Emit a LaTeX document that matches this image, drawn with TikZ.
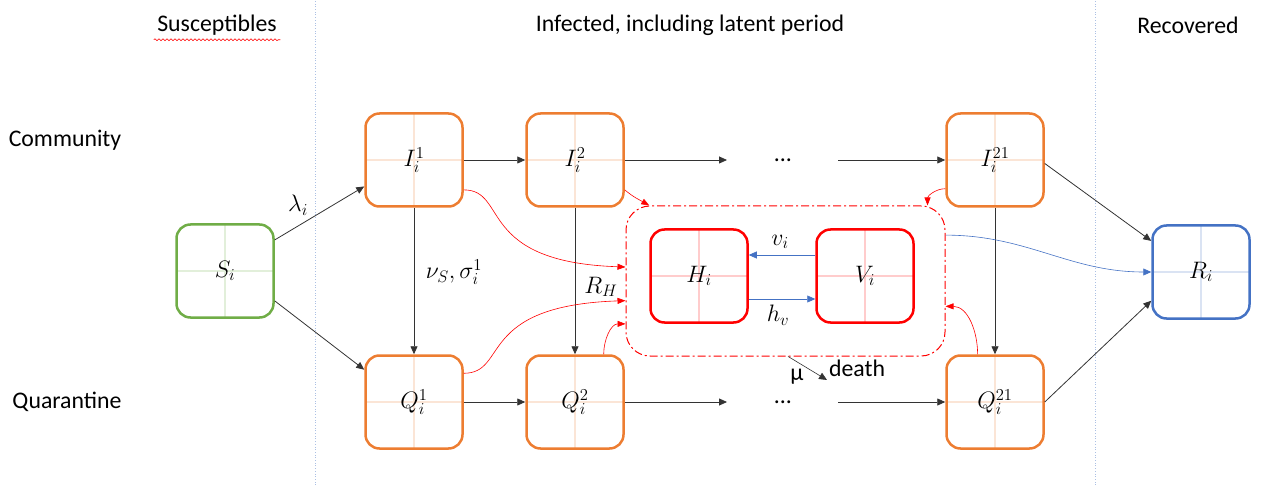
\RequirePackage{fix-cm}
\documentclass[tikz,border=0pt]{standalone}
\usepackage{fontspec}
\setmainfont{Carlito}
\usetikzlibrary{arrows.meta,decorations.pathmorphing}

\definecolor{naranja}{HTML}{ED7D31}
\definecolor{verde}{HTML}{70AD47}
\definecolor{azul}{HTML}{4472C4}
\definecolor{rojo}{HTML}{FF0000}

\tikzset{
    caja/.style={draw=#1, line width=2.5pt, rounded corners=14pt,
        minimum width=97pt, minimum height=93pt,
        path picture={\draw[#1!20, line width=1.4pt]
            (path picture bounding box.north) -- (path picture bounding box.south)
            (path picture bounding box.west) -- (path picture bounding box.east);}},
    flecha/.style={-{Triangle[length=8pt,width=7pt]}, line width=0.8pt, black!80},
    flecharoja/.style={-{Triangle[length=8pt,width=6pt]}, line width=0.6pt, rojo},
    flechaazul/.style={-{Triangle[length=8pt,width=7pt]}, line width=0.8pt, azul},
    separador/.style={azul!45, dotted, line width=0.7pt}
}

\begin{document}
\begin{tikzpicture}[x=1pt, y=1pt, every node/.style={font=\fontsize{23.8}{28}\selectfont}]
        \useasboundingbox (0,0) rectangle (1263,485);

        % Separadores verticales entre las tres zonas.
        \draw[separador] (315,0) -- (315,485);
        \draw[separador] (1095,0) -- (1095,485);

        % Encabezados de columnas y filas.
        \node (susc) at (217,460) {Susceptibles};
        \draw[rojo, line width=0.6pt, decorate,
            decoration={snake, amplitude=0.9pt, segment length=4pt}]
            ([yshift=-1pt]susc.south west) -- ([yshift=-1pt]susc.south east);
        \node (infec) at (690,460) {Infected, including latent period};
        \node (recup) at (1188,460) {Recovered};
        \node (comun) at (65,345) {Community};
        \node (cuar) at (67,83) {Quarantine};

        % Contenedor de hospitalizados y UCI.
        \node[draw=rojo, line width=1pt, rounded corners=24pt,
            dash pattern=on 8pt off 3pt on 2pt off 3pt,
            minimum width=319pt, minimum height=150pt] (hosp) at (785.5,204) {};

        % Compartimentos.
        \node[caja=verde] (S) at (225,214) {$S_i$};
        \node[caja=naranja] (I1) at (414,325) {$I_i^1$};
        \node[caja=naranja] (I2) at (575,325) {$I_i^2$};
        \node[caja=naranja] (I21) at (995,325) {$I_i^{21}$};
        \node[caja=naranja] (Q1) at (414,83) {$Q_i^1$};
        \node[caja=naranja] (Q2) at (575,83) {$Q_i^2$};
        \node[caja=naranja] (Q21) at (995,83) {$Q_i^{21}$};
        \node[caja=rojo] (H) at (699,209) {$H_i$};
        \node[caja=rojo] (V) at (865,209) {$V_i$};
        \node[caja=azul] (R) at (1201,213) {$R_i$};

        % Puntos suspensivos de la cadena de estados.
        \node (pI) at (783,325) {...};
        \node (pQ) at (783,83) {...};
        \coordinate (fI) at (727,325);
        \coordinate (iI) at (838,325);
        \coordinate (fQ) at (727,83);
        \coordinate (iQ) at (838,83);
        \coordinate (muerte) at (827,105);

        % Infección y paso a cuarentena desde S.
        \draw[flecha] (S.32) -- (I1.208);
        \draw[flecha] (S.-31) -- (Q1.147);
        \node at (298,280) {$\lambda_i$};

        % Cadena de infectados en la comunidad y en cuarentena.
        \draw[flecha] (I1.east) -- (I2.west);
        \draw[flecha] (I2.east) -- (fI);
        \draw[flecha] (iI) -- (I21.west);
        \draw[flecha] (Q1.east) -- (Q2.west);
        \draw[flecha] (Q2.east) -- (fQ);
        \draw[flecha] (iQ) -- (Q21.west);

        % Paso vertical de I a Q.
        \draw[flecha] (I1.south) -- (Q1.north);
        \draw[flecha] (I2.south) -- (Q2.north);
        \draw[flecha] (I21.south) -- (Q21.north);
        \node at (454,213) {$\nu_S, \sigma_i^1$};

        % Recuperación.
        \draw[flecha] (I21.-4) -- (R.148);
        \draw[flecha] (Q21.east) -- (R.210);
        \draw[flechaazul, line width=0.6pt] (hosp.16) to[out=0,in=180] (R.west);

        % Hospitalización desde I y Q.
        \draw[flecharoja] (I1.-31) .. controls +(45,0) and +(-150,5) .. (hosp.175);
        \draw[flecharoja] (Q1.30) .. controls +(45,0) and +(-150,-5) .. (hosp.187);
        \draw[flecharoja] (I2.-31) to[out=-40,in=150] (hosp.151);
        \draw[flecharoja] (Q2.59) to[out=90,in=180] (hosp.195);
        \draw[flecharoja] (I21.210) to[out=180,in=90] (hosp.28);
        \draw[flecharoja] (Q21.110) to[out=90,in=0] (hosp.-9);
        \node at (601,198) {$R_H$};

        % Intercambio entre H y V.
        \draw[flechaazul, line width=0.6pt] ([yshift=21pt]V.west) -- ([yshift=21pt]H.east);
        \draw[flechaazul, line width=0.6pt] ([yshift=-23pt]H.east) -- ([yshift=-23pt]V.west);
        \node at (780,243) {$v_i$};
        \node at (778,170) {$h_v$};

        % Muerte.
        \draw[flecha, line width=0.6pt] (hosp.-88) -- (muerte);
        \node at (797,108) {μ};
        \node at (857,117) {death};
\end{tikzpicture}
\end{document}
